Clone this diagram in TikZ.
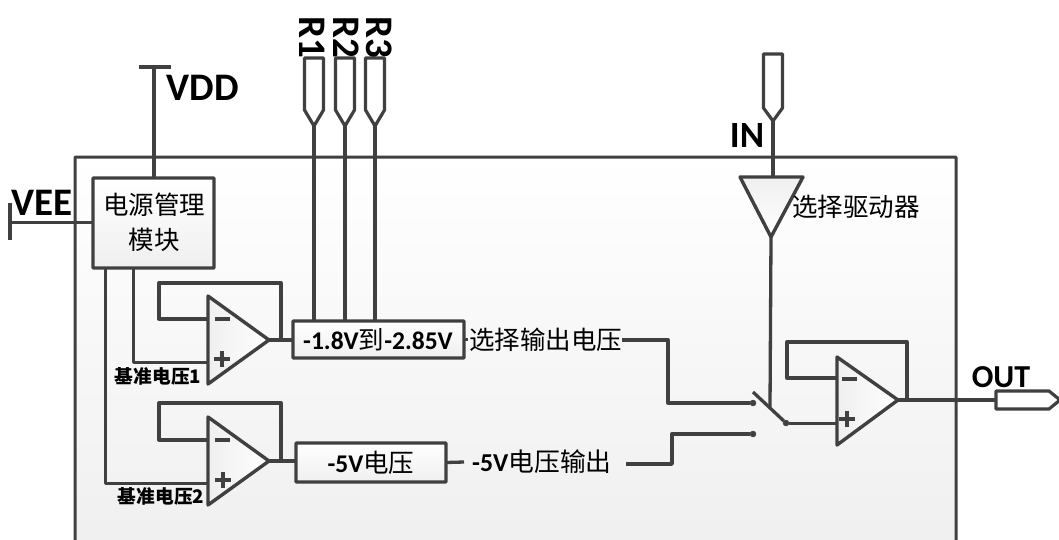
\documentclass[tikz,border=0pt]{standalone}
\usepackage{fontspec}
\setmainfont{Carlito}
\newfontfamily\cjk{Noto Sans CJK SC}
\definecolor{ln}{HTML}{404040}
\definecolor{sh}{HTML}{EFEFEF}
\newcommand{\fsz}[1]{\fontsize{#1}{#1}\selectfont}
\newcommand{\minussign}[1]{\draw[signstroke] ([xshift=-7.5pt]#1) -- ([xshift=7.5pt]#1);}
\newcommand{\plussign}[1]{\draw[signstroke] ([xshift=-8pt]#1) -- ([xshift=8pt]#1) ([yshift=-8pt]#1) -- ([yshift=8pt]#1);}
\tikzset{
  wire/.style={draw=ln,line width=3.3pt,line join=round},
  thinwire/.style={draw=ln,line width=3pt,line join=round},
  signstroke/.style={draw=ln,line width=4.6pt},
  block/.style={draw=ln,line width=3.4pt,rectangle,rounded corners=0.8pt,top color=white,bottom color=sh,inner sep=0pt,outer sep=0pt,text=black},
  amp/.style={draw=ln,line width=3.4pt,line join=round,left color=sh,right color=white},
  pinshape/.style={draw=ln,line width=3.2pt,line join=round,fill=white},
  biglabel/.style={inner sep=0pt,text=black,font=\fsz{39}\bfseries},
  cjklabel/.style={inner sep=0pt,text=black,font=\fsz{25.5}\cjk},
  reflabel/.style={inner sep=0pt,text=black,font=\fsz{18.7}\cjk\bfseries},
  dot/.style={circle,fill=ln,draw=ln,minimum size=6pt,inner sep=0pt,outer sep=0pt}
}
\begin{document}
\begin{tikzpicture}[x=1pt,y=-1pt]
\useasboundingbox (0,0) rectangle (1059,539);
\clip (0,0) rectangle (1059,539);
% chip outline
\node[block,line width=3pt,minimum width=881pt,minimum height=400pt] (chip) at (515.5,357) {};

% power
\coordinate (vddtop) at (154,67);
\coordinate (vddL) at (139,67);
\coordinate (vddR) at (171,67);
\coordinate (veeEnd) at (10,222);
\coordinate (veeT) at (10,203);
\coordinate (veeB) at (10,240);
\node[block,minimum width=121pt,minimum height=90pt] (pwr) at (153.5,223) {};
\node[cjklabel] (pwrA) at (154,205) {电源管理};
\node[cjklabel] (pwrB) at (154,240) {模块};
\draw[wire] (vddL) -- (vddR);
\draw[wire] (vddtop) -- (pwr.north -| vddtop);
\draw[wire] (veeT) -- (veeB);
\draw[thinwire] (veeEnd) -- (pwr.west |- veeEnd);
\node[biglabel] (vdd) at (203,88) {VDD};
\node[biglabel] (vee) at (42,203) {VEE};

% select box
\node[block,minimum width=171pt,minimum height=37pt] (sel) at (378.5,339.5) {};
\node[inner sep=0pt,font=\fsz{25.5}\bfseries] (seltext) at (378,339.5) {-1.8V{\cjk\mdseries 到}-2.85V};
\node[block,minimum width=150pt,minimum height=39pt] (five) at (371,462.5) {};
\node[inner sep=0pt,font=\fsz{25.5}\bfseries] (fivetext) at (371,463) {-5V{\cjk\mdseries 电压}};

% R pins
\foreach \n/\x/\lx in {1/314/312.5,2/345/346,3/375/379}{
  \coordinate (r\n) at (\x,126);
  \draw[pinshape] (\x-9.5,58) -- (\x+9.5,58) -- (\x+9.5,110) -- (r\n) -- (\x-9.5,110) -- cycle;
  \draw[wire] (r\n) -- (sel.north -| r\n);
  \node[biglabel,rotate=-90] (rl\n) at (\lx,37) {R\n};
}

% op amp 1
\coordinate (a1t) at (208,296);
\coordinate (a1b) at (208,384);
\coordinate (a1o) at (269,340);
\coordinate (a1m) at (208,319);
\coordinate (a1p) at (208,362);
\coordinate (a1ms) at (222,319);
\coordinate (a1ps) at (222,359);
\draw[wire] (a1m) -- (159,319) -- (159,283) -- (281,283) -- (281,340) -- (a1o);
\draw[thinwire] (a1p) -- (133,362) -- (133,268);
\draw[amp] (a1t) -- (a1o) -- (a1b) -- cycle;
\minussign{a1ms}
\plussign{a1ps}
\draw[wire] (a1o) -- (sel.west |- a1o);
\node[reflabel] (ref1) at (158,376) {基准电压1};

% op amp 2
\coordinate (a2t) at (208,417);
\coordinate (a2b) at (208,505);
\coordinate (a2o) at (269,461);
\coordinate (a2m) at (208,440);
\coordinate (a2p) at (208,483);
\coordinate (a2ms) at (222,440);
\coordinate (a2ps) at (223,480);
\draw[wire] (a2m) -- (159,440) -- (159,403) -- (281,403) -- (281,461) -- (a2o);
\draw[thinwire] (a2p) -- (105,483) -- (105,268);
\draw[amp] (a2t) -- (a2o) -- (a2b) -- cycle;
\minussign{a2ms}
\plussign{a2ps}
\draw[wire] (a2o) -- (five.west |- a2o);
\node[reflabel] (ref2) at (161,496) {基准电压2};

% output labels
\node[cjklabel,anchor=west] (seltxt) at (469,340) {选择输出电压};
\node[inner sep=0pt,font=\fsz{25.8}\bfseries,anchor=west] (fivetxt) at (472,462) {-5V{\cjk\mdseries 电压输出}};
\draw[wire] (sel.east) -- (468,339.5);
\draw[wire] (five.east) -- (464,462);

% switch
\node[dot] (s1) at (753,403) {};
\node[dot] (s2) at (753,434) {};
\node[dot] (sp) at (786,423) {};
\coordinate (blade) at (753,392);
\coordinate (ctl) at (770,407);
\draw[wire] (seltxt.east |- 0,340) -- (668,340) -- (668,403) -- (s1);
\draw[wire] (626,464) -- (672,464) -- (672,434) -- (s2);
\draw[wire] (blade) -- (sp);

% IN driver
\coordinate (inTip) at (773,121);
\coordinate (drvTop) at (773,177);
\coordinate (drvTip) at (771,237);
\draw[pinshape] (763.5,54) -- (782.5,54) -- (782.5,108) -- (inTip) -- (763.5,108) -- cycle;
\draw[wire] (inTip) -- (drvTop);
\draw[wire] (drvTip) -- (ctl);
\draw[draw=ln,line width=3.4pt,line join=round,top color=sh,bottom color=white] (740,177) -- (803,177) -- (drvTip) -- cycle;
\node[biglabel,font=\fsz{37}\bfseries] (inl) at (747,135) {IN};
\node[cjklabel,anchor=west] (drvl) at (792,207) {选择驱动器};

% op amp 3
\coordinate (a3t) at (837,357);
\coordinate (a3b) at (837,445);
\coordinate (a3o) at (898,400);
\coordinate (a3m) at (837,378);
\coordinate (a3p) at (837,423);
\coordinate (a3ms) at (849,379);
\coordinate (a3ps) at (847,419);
\draw[wire] (a3m) -- (787,378) -- (787,342) -- (907,342) -- (907,400) -- (a3o);
\draw[thinwire] (sp) -- (a3p);
\draw[amp] (a3t) -- (a3o) -- (a3b) -- cycle;
\minussign{a3ms}
\plussign{a3ps}

% OUT
\coordinate (outBase) at (996,400);
\draw[wire] (a3o) -- (outBase);
\draw[pinshape] (outBase) -- (996,391) -- (1049,391) -- (1060,400) -- (1049,409) -- (996,409) -- cycle;
\node[biglabel,font=\fsz{32}\bfseries] (outl) at (1001,377) {OUT};
\end{tikzpicture}
\end{document}
